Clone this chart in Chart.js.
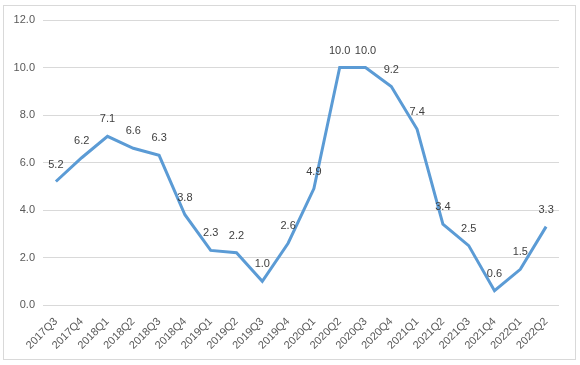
<!DOCTYPE html>
<html>
<head>
<meta charset="utf-8">
<script src="https://cdn.jsdelivr.net/npm/chart.js@4"></script>
<style>
  html, body { margin: 0; padding: 0; background: #fff; }
  #wrap { width: 580px; height: 365px; }
</style>
</head>
<body>
<div id="wrap"><canvas id="rateChart" width="580" height="365"></canvas></div>
<script>
// Quarter labels and values
const quarters = ['2017Q3', '2017Q4', '2018Q1', '2018Q2', '2018Q3', '2018Q4', '2019Q1', '2019Q2', '2019Q3', '2019Q4',
                  '2020Q1', '2020Q2', '2020Q3', '2020Q4', '2021Q1', '2021Q2', '2021Q3', '2021Q4', '2022Q1', '2022Q2'];
const values = [5.2, 6.2, 7.1, 6.6, 6.3, 3.8, 2.3, 2.2, 1.0, 2.6,
                4.9, 10.0, 10.0, 9.2, 7.4, 3.4, 2.5, 0.6, 1.5, 3.3];
const yTicks = [0, 2, 4, 6, 8, 10, 12];

const fontFamily = "'Liberation Sans', 'DejaVu Sans', sans-serif";

// light frame round the whole chart, like the spreadsheet export
const framePlugin = {
    id: 'frame',
    beforeDraw(chart) {
        const ctx = chart.ctx;
        ctx.save();
        ctx.fillStyle = '#ffffff';
        ctx.fillRect(0, 0, chart.width, chart.height);
        ctx.strokeStyle = '#d9d9d9';
        ctx.lineWidth = 1;
        ctx.strokeRect(3.5, 5.5, 572, 354);
        ctx.restore();
    }
};

// value labels above each point
const valueLabels = {
    id: 'valueLabels',
    afterDatasetsDraw(chart) {
        const ctx = chart.ctx;
        const meta = chart.getDatasetMeta(0);
        ctx.save();
        ctx.font = '11px ' + fontFamily;
        ctx.fillStyle = '#404040';
        ctx.textAlign = 'center';
        ctx.textBaseline = 'middle';
        meta.data.forEach((pt, i) => {
            ctx.fillText(values[i].toFixed(1), pt.x, pt.y - 17);
        });
        ctx.restore();
    }
};

new Chart(document.getElementById('rateChart'), {
    type: 'line',
    data: {
        labels: quarters,
        datasets: [{
            data: values,
            borderColor: '#5b9bd5',
            borderWidth: 3,
            tension: 0,
            pointRadius: 0,
            fill: false
        }]
    },
    options: {
        responsive: false,
        animation: false,
        layout: { padding: { top: 20, right: 21, left: 0, bottom: 0 } },
        plugins: {
            legend: { display: false },
            tooltip: { enabled: false }
        },
        scales: {
            x: {
                offset: true,
                grid: { display: false },
                border: { display: false },
                ticks: {
                    color: '#595959',
                    font: { family: fontFamily, size: 11 },
                    minRotation: 45,
                    maxRotation: 45,
                    autoSkip: false,
                    padding: 2
                },
                afterFit(scale) { scale.height = 60; }
            },
            y: {
                min: 0,
                max: 12,
                grid: { color: '#d9d9d9', drawTicks: false },
                border: { display: false },
                afterBuildTicks(scale) { scale.ticks = yTicks.map(v => ({ value: v })); },
                ticks: {
                    color: '#595959',
                    font: { family: fontFamily, size: 11 },
                    padding: 8,
                    callback: v => v.toFixed(1)
                },
                afterFit(scale) { scale.width = 43; }
            }
        }
    },
    plugins: [framePlugin, valueLabels]
});
</script>
</body>
</html>
